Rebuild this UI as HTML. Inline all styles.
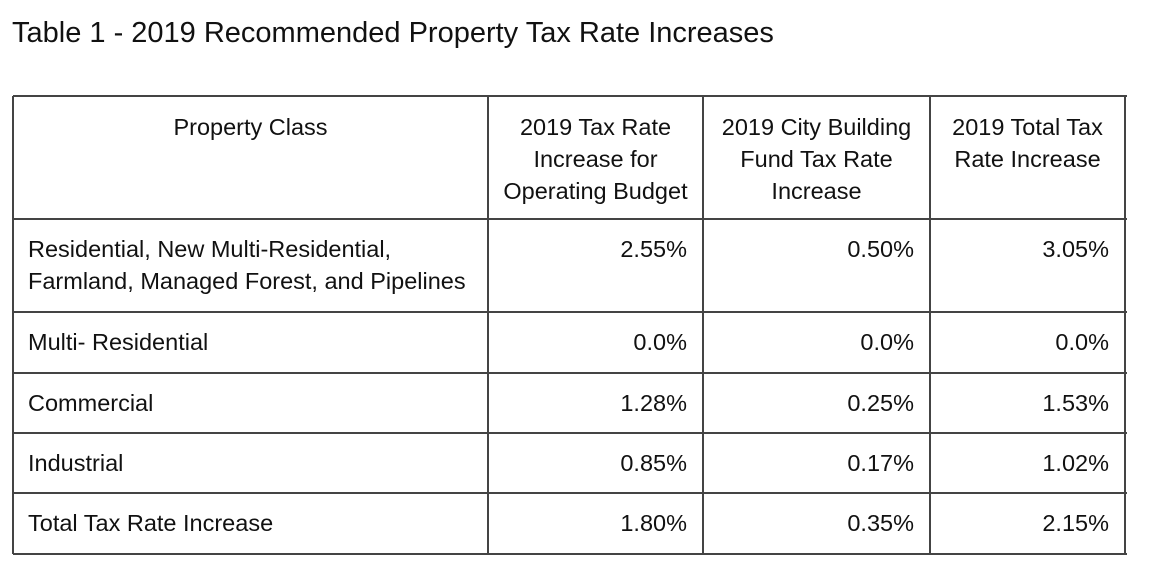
<!DOCTYPE html>
<html><head><meta charset="utf-8"><style>
body{margin:0;width:1167px;height:583px;background:#fff;position:relative;overflow:hidden;font-family:"Liberation Sans",Arial,sans-serif;color:#111}
.t{position:absolute;font-size:23.5px;line-height:32px;white-space:nowrap}
.h{position:absolute;background:#444;height:1.5px}
.v{position:absolute;background:#444;width:1.5px}
</style></head><body>
<div class="t" style="left:12px;top:15px;font-size:29px;line-height:36px">Table 1 - 2019 Recommended Property Tax Rate Increases</div>
<div id="grid"></div>
<div id="cells"></div>
<script>
const colLines=[13,488,703,930,1125];
const rowLines=[96,219,312,373,433,493,554];
const headers=[["Property Class"],["2019 Tax Rate","Increase for","Operating Budget"],["2019 City Building","Fund Tax Rate","Increase"],["2019 Total Tax","Rate Increase"]];
const classes=[["Residential, New Multi-Residential,","Farmland, Managed Forest, and Pipelines"],["Multi- Residential"],["Commercial"],["Industrial"],["Total Tax Rate Increase"]];
const operating=["2.55%","0.0%","1.28%","0.85%","1.80%"];
const building=["0.50%","0.0%","0.25%","0.17%","0.35%"];
const total=["3.05%","0.0%","1.53%","1.02%","2.15%"];
const g=document.getElementById('grid'),c=document.getElementById('cells');
rowLines.forEach(y=>{const d=document.createElement('div');d.className='h';


d.style.left=colLines[0]+'px';d.style.top=(y-0.75)+'px';d.style.width=(colLines[4]-colLines[0]+1.5)+'px';g.appendChild(d);});
colLines.forEach(x=>{const d=document.createElement('div');d.className='v';


d.style.left=(x-0.75)+'px';d.style.top=rowLines[0]+'px';d.style.height=(rowLines[6]-rowLines[0])+'px';g.appendChild(d);});
function cell(lines,ci,top,align,name){const d=document.createElement('div');d.className='t';


d.innerHTML=lines.join('<br>');d.style.top=top+'px';
if(align==='center'){d.style.left=colLines[ci]+'px';d.style.width=(colLines[ci+1]-colLines[ci])+'px';d.style.textAlign='center';}
else if(align==='right'){d.style.right=(1167-colLines[ci+1]+16)+'px';d.style.textAlign='right';}
else{d.style.left=(colLines[ci]+15)+'px';}
c.appendChild(d);}
headers.forEach((h,i)=>cell(h,i,rowLines[0]+15,'center','header-cell'));
classes.forEach((cl,r)=>{const top=rowLines[r+1]+14;
cell(cl,0,top,'left','property-class-cell');
cell([operating[r]],1,top,'right','operating-rate-cell');
cell([building[r]],2,top,'right','building-fund-rate-cell');
cell([total[r]],3,top,'right','total-rate-cell');});
</script>
</body></html>
